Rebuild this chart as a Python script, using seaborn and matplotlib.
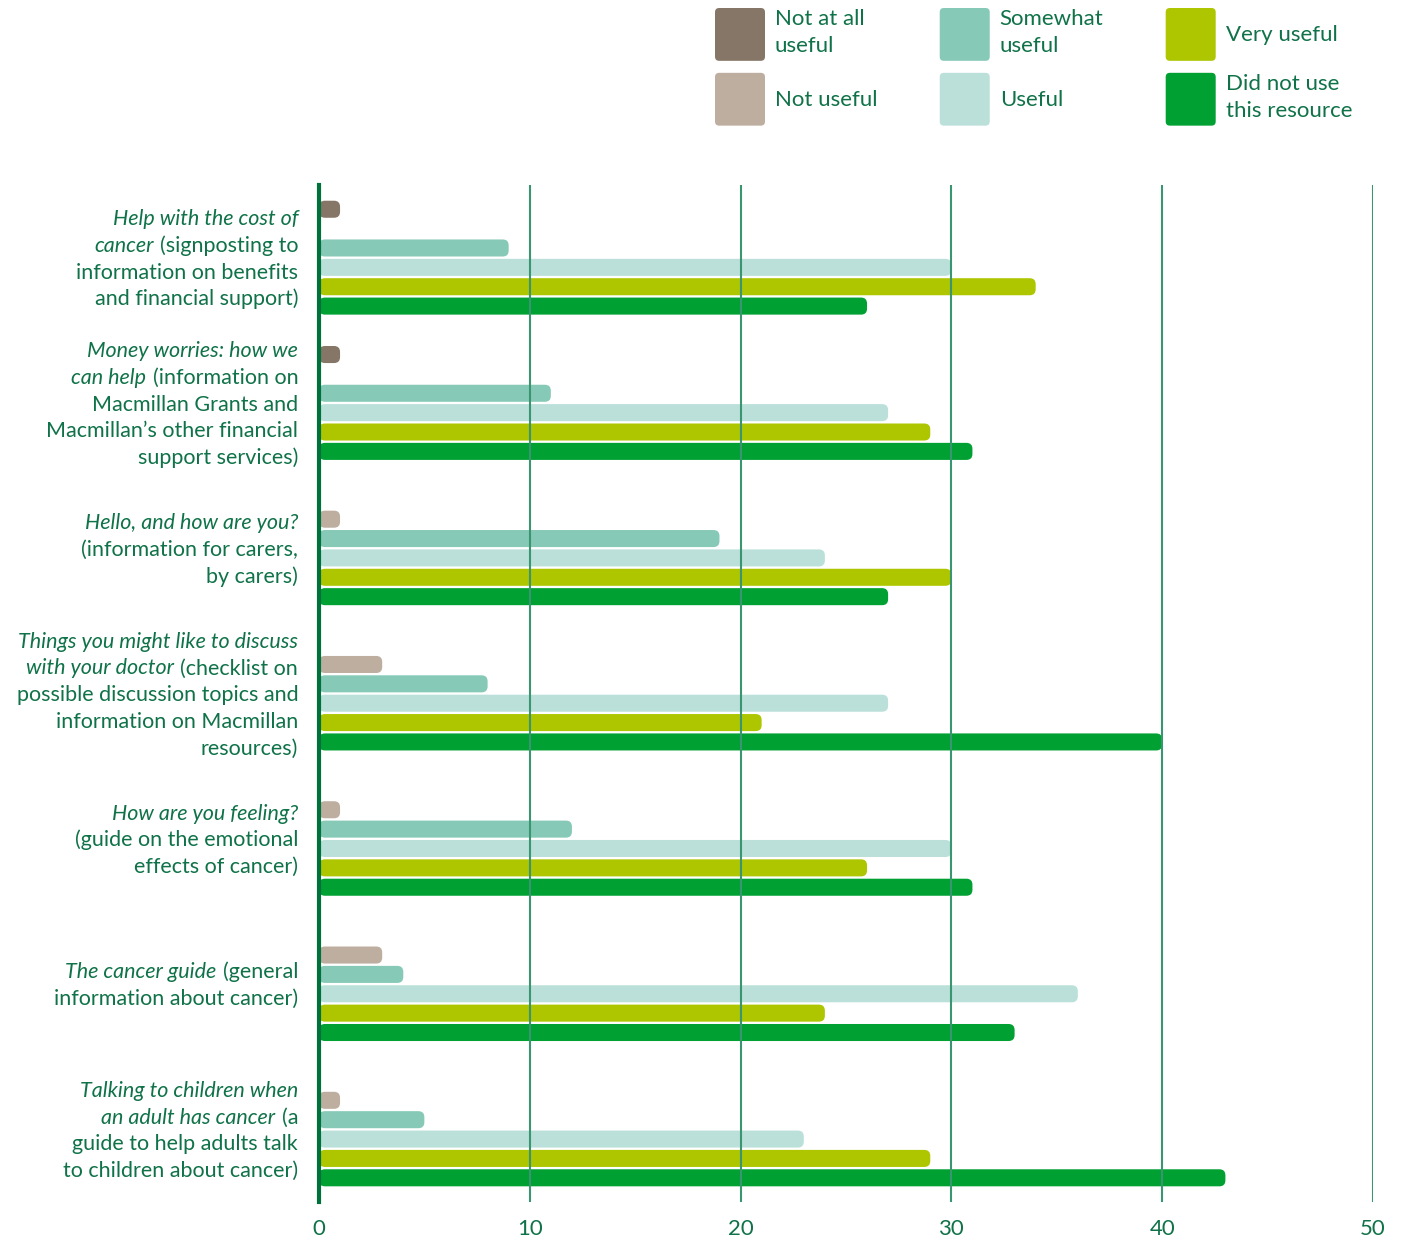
import matplotlib
matplotlib.use("Agg")
import matplotlib.pyplot as plt
import seaborn as sns
import pandas as pd
from matplotlib.patches import FancyBboxPatch, Patch
from matplotlib.legend_handler import HandlerPatch

# ================================
# DATA
# ================================
resources = [
    "Help with the cost of cancer",
    "Money worries: how we can help",
    "Hello, and how are you?",
    "Things you might like to discuss with your doctor",
    "How are you feeling?",
    "The cancer guide",
    "Talking to children when an adult has cancer",
]
ratings = ["Not at all useful", "Not useful", "Somewhat useful",
           "Useful", "Very useful", "Did not use this resource"]
legend_labels = ["Not at all\nuseful", "Not useful", "Somewhat\nuseful",
                 "Useful", "Very useful", "Did not use\nthis resource"]

not_at_all_useful = [1, 1, 0, 0, 0, 0, 0]
not_useful = [0, 0, 1, 3, 1, 3, 1]
somewhat_useful = [9, 11, 19, 8, 12, 4, 5]
useful = [30, 27, 24, 27, 30, 36, 23]
very_useful = [34, 29, 30, 21, 26, 24, 29]
did_not_use = [26, 31, 27, 40, 31, 33, 43]

x_ticks = [0, 10, 20, 30, 40, 50]

# label lines: (text, italic)
label_lines = [
    [[("Help with the cost of", True)],
     [("cancer", True), ("(signposting to", False)],
     [("information on benefits", False)],
     [("and financial support)", False)]],
    [[("Money worries: how we", True)],
     [("can help", True), ("(information on", False)],
     [("Macmillan Grants and", False)],
     [("Macmillan\u2019s other financial", False)],
     [("support services)", False)]],
    [[("Hello, and how are you?", True)],
     [("(information for carers,", False)],
     [("by carers)", False)]],
    [[("Things you might like to discuss", True)],
     [("with your doctor", True), ("(checklist on", False)],
     [("possible discussion topics and", False)],
     [("information on Macmillan", False)],
     [("resources)", False)]],
    [[("How are you feeling?", True)],
     [("(guide on the emotional", False)],
     [("effects of cancer)", False)]],
    [[("The cancer guide", True), ("(general", False)],
     [("information about cancer)", False)]],
    [[("Talking to children when", True)],
     [("an adult has cancer", True), ("(a", False)],
     [("guide to help adults talk", False)],
     [("to children about cancer)", False)]],
]

colors = ["#857667", "#bdaea0", "#86c9b7", "#bbe0d9", "#adc600", "#00a032"]
text_color = "#0f7248"
spine_color = "#00703c"
grid_color = "#3a9670"

# ================================
# LONG FORMAT TABLE
# ================================
series = [not_at_all_useful, not_useful, somewhat_useful,
          useful, very_useful, did_not_use]
rows = []
for rating, values in zip(ratings, series):
    for res, v in zip(resources, values):
        rows.append({"resource": res, "rating": rating, "value": v})
df = pd.DataFrame(rows)

# ================================
# PLOT
# ================================
sns.set_style("white")
plt.rcParams["font.family"] = ["Lato", "DejaVu Sans"]

fig = plt.figure(figsize=(14.07, 12.36), dpi=100)
ax = fig.add_axes([0.2267, 0.0275, 0.7491, 0.8228])

sns.barplot(data=df, x="value", y="resource", hue="rating",
            order=resources, hue_order=ratings,
            palette=dict(zip(ratings, colors)), saturation=1,
            orient="h", errorbar=None, gap=0.12, linewidth=0,
            legend=False, ax=ax)

ax.set_xlim(0, 50)
ax.set_ylim(6.5, -0.5)

# rounded bar ends
ax_w_px = 0.7491 * 1407
ax_h_px = 0.8228 * 1236
px_x = ax_w_px / 50
px_y = ax_h_px / 7
aspect = px_x / px_y
radius = 6 / px_x
for bar in list(ax.patches):
    x, y = bar.get_x(), bar.get_y()
    w, h = bar.get_width(), bar.get_height()
    fc = bar.get_facecolor()
    bar.remove()
    if w <= 0:
        continue
    ax.add_patch(FancyBboxPatch(
        (x, y), w, h,
        boxstyle=f"round,pad=0,rounding_size={min(radius, w / 2)}",
        mutation_aspect=aspect, facecolor=fc, edgecolor="none", zorder=1))

# axes styling
ax.set_xticks(x_ticks)
ax.set_xticklabels([str(t) for t in x_ticks])
ax.tick_params(axis="x", length=0, pad=12, labelsize=16, labelcolor=text_color)
ax.tick_params(axis="y", length=0, labelleft=False)
ax.set_xlabel("")
ax.set_ylabel("")
ax.grid(axis="x", color=grid_color, linewidth=1.5)
ax.grid(axis="y", visible=False)
ax.set_axisbelow(False)
for side in ["top", "right", "bottom"]:
    ax.spines[side].set_visible(False)
ax.spines["left"].set_color(spine_color)
ax.spines["left"].set_linewidth(3)
ax.spines["left"].set_zorder(3)

# ================================
# CATEGORY LABELS (mixed italic / upright)
# ================================
line_step = 26.7 / px_y
for i, lines in enumerate(label_lines):
    n = len(lines)
    for j, pieces in enumerate(lines):
        yl = i + (j - (n - 1) / 2) * line_step
        prev = None
        for text, italic in reversed(pieces):
            if prev is None:
                xycoords = ("axes fraction", "data")
                offset = (-15, -5.5)
            else:
                xycoords = (prev, "data")
                offset = (-4.5, -5.5)
            prev = ax.annotate(text, xy=(0, yl), xycoords=xycoords,
                               xytext=offset, textcoords="offset points",
                               ha="right", va="baseline", fontsize=15.5,
                               style="italic" if italic else "normal",
                               color=text_color, annotation_clip=False)

# ================================
# LEGEND
# ================================
def rounded_patch(legend, orig_handle, xdescent, ydescent, width, height, fontsize):
    return FancyBboxPatch((-xdescent, -ydescent), width, height,
                          boxstyle="round,pad=0,rounding_size=3")

handles = [Patch(facecolor=c, edgecolor="none") for c in colors]
leg = fig.legend(handles, legend_labels, loc="upper left",
                 bbox_to_anchor=(715 / 1407, 1 - 8 / 1236), ncol=3,
                 frameon=False, fontsize=16, borderpad=0, borderaxespad=0,
                 handlelength=2.25, handleheight=3.28, handletextpad=0.45,
                 labelspacing=0.54, columnspacing=2.8,
                 handler_map={Patch: HandlerPatch(patch_func=rounded_patch,
                                                  xpad=0, ypad=0)})
for t in leg.get_texts():
    t.set_color(text_color)
    t.set_linespacing(1.45)

fig.savefig("out.png", dpi=100)
